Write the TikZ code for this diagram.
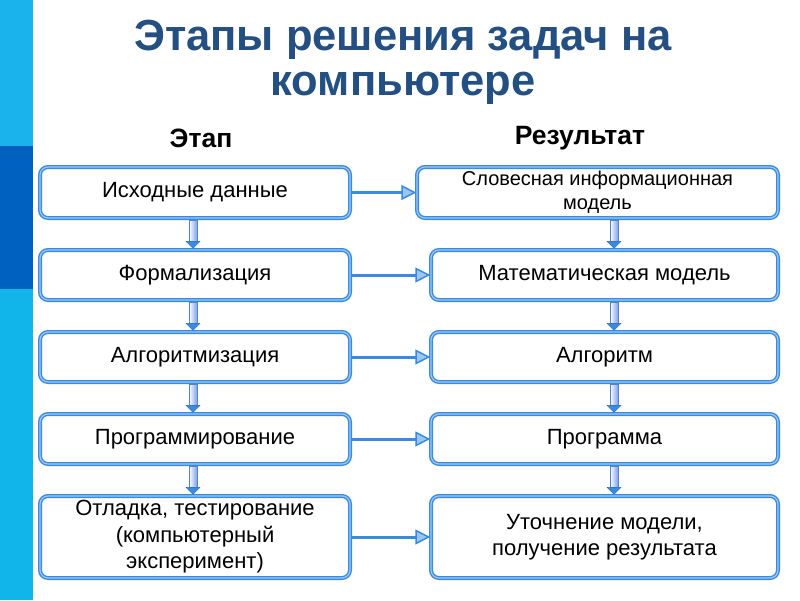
\documentclass[tikz,border=0pt]{standalone}
\usepackage{fontspec}
\setmainfont{Liberation Sans}
\usetikzlibrary{arrows.meta,calc}
\definecolor{stripA}{HTML}{1BB3EB}
\definecolor{stripB}{HTML}{0061C1}
\definecolor{stripC}{HTML}{12B5EA}
\definecolor{boxline}{HTML}{3A8AE0}
\definecolor{boxinner}{HTML}{9CC8F5}
\definecolor{titlecol}{HTML}{234F82}
\definecolor{arrfill}{HTML}{9CC6F2}
\tikzset{
  x=1pt,y=-1pt,
  stagebox/.style={draw=boxline,line width=1.4pt,double=boxinner,double distance=1.2pt,
    rounded corners=8pt,fill=white,
    align=center,font=\fontsize{22}{26.5}\selectfont,inner sep=0pt},
  harrow/.style={draw=boxline,line width=3pt,
    -{Triangle[length=15pt,width=15pt,fill=arrfill,line width=1.5pt]}},
}
\begin{document}
\begin{tikzpicture}
\useasboundingbox (0,0) rectangle (800,600);
\fill[white] (0,0) rectangle (800,600);
\fill[stripA] (0,0) rectangle (33,146);
\fill[stripB] (0,146) rectangle (33,289);
\fill[stripC] (0,289) rectangle (33,600);
\node[font=\fontsize{43.5}{45}\selectfont\bfseries,text=titlecol,align=center] (title) at (403,62) {Этапы решения задач на\\компьютере};
\node[font=\fontsize{26.5}{30}\selectfont\bfseries] (h1) at (201,138) {Этап};
\node[font=\fontsize{26.5}{30}\selectfont\bfseries] (h2) at (580,138) {Результат};
% left boxes
\node[stagebox,minimum width=310pt,minimum height=51pt] (l1) at (195,192.5) {Исходные данные};
\node[stagebox,minimum width=310pt,minimum height=50pt] (l2) at (195,275) {Формализация};
\node[stagebox,minimum width=310pt,minimum height=50pt] (l3) at (195,357) {Алгоритмизация};
\node[stagebox,minimum width=310pt,minimum height=50pt] (l4) at (195,439) {Программирование};
\node[stagebox,minimum width=310pt,minimum height=82pt] (l5) at (195,537) {Отладка, тестирование\\(компьютерный\\эксперимент)};
% right boxes
\node[stagebox,minimum width=361pt,minimum height=51pt,font=\fontsize{20}{24}\selectfont] (r1) at (597.5,192.5) {Словесная информационная\\модель};
\node[stagebox,minimum width=347pt,minimum height=50pt] (r2) at (604.5,275) {Математическая модель};
\node[stagebox,minimum width=347pt,minimum height=50pt] (r3) at (604.5,357) {Алгоритм};
\node[stagebox,minimum width=347pt,minimum height=50pt] (r4) at (604.5,439) {Программа};
\node[stagebox,minimum width=347pt,minimum height=82pt] (r5) at (604.5,537) {Уточнение модели,\\получение результата};
% horizontal arrows
\foreach \i in {1,...,5}{
  \draw[harrow] (l\i.east) -- (r\i.west);
}
% vertical arrows
\foreach \a/\b/\xx in {l1/l2/193,l2/l3/193,l3/l4/193,l4/l5/193,r1/r2/614,r2/r3/614,r3/r4/614,r4/r5/614}{
  \path let \p1=(\a.south), \p2=(\b.north) in
    coordinate (s) at (\xx,\y1) coordinate (e) at (\xx,\y2);
  \shade[left color=white,right color=arrfill!80!blue,draw=boxline!70!gray,line width=0.6pt]
    ($(s)+(-4,2)$) rectangle ($(e)+(4,-8)$);
  \fill[boxline,draw=boxline!80!black,line width=0.4pt] ($(e)+(-7,-8)$) -- ($(e)+(7,-8)$) -- ($(e)+(0,-1)$) -- cycle;
}
\end{tikzpicture}
\end{document}
